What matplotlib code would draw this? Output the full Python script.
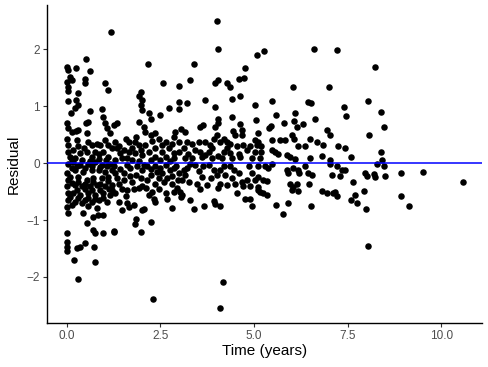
import matplotlib
matplotlib.use("Agg")
import matplotlib.pyplot as plt

# residuals vs follow-up time
time_early = [
    1.17, 0.51, 0.00, 0.04, 0.24, 0.62, 0.09, 0.13, 0.00, 0.03, 0.04, 0.49, 0.49, 1.02, 1.11, 0.31,
    0.04, 0.24, 0.31, 0.11, 0.22, 0.62, 0.94, 0.98, 0.58, 0.51, 0.00, 0.04, 0.13, 0.24, 0.31, 1.02,
    1.07, 1.16, 1.25, 0.53, 0.00, 0.03, 0.04, 0.09, 0.27, 0.31, 0.36, 0.58, 0.67, 0.80, 0.89, 1.02,
    1.11, 1.20, 0.98, 1.11, 0.53, 0.67, 0.76, 0.22,
    0.00, 0.04, 0.00, 0.04, 0.03, 0.00, 0.04, 0.40, 0.44, 0.53, 0.71, 0.84, 0.98, 0.00, 0.71, 0.76,
    0.98, 1.25, 0.00, 0.00, 0.00, 0.27, 0.36, 0.49, 0.74, 0.20, 0.76, 0.31,
    0.04, 0.18, 0.36, 0.58, 0.76, 0.94, 1.16, 0.22, 0.44, 0.67, 0.85, 1.02, 1.20, 0.09, 0.31, 0.53,
    0.71, 0.94, 1.11, 0.22, 0.40, 0.62, 0.80, 1.02, 1.20, 0.18, 0.36, 0.58, 0.76, 0.98, 1.16, 0.22,
    0.49, 0.67, 0.85, 1.07, 0.80,
]
resid_early = [
    2.29, 1.83, 1.68, 1.63, 1.67, 1.62, 1.51, 1.45, 1.42, 1.34, 1.26, 1.48, 1.40, 1.40, 1.28, 1.22,
    1.09, 1.10, 1.02, 0.87, 0.96, 0.91, 0.95, 0.81, 0.72, 0.70, 0.70, 0.61, 0.55, 0.56, 0.58, 0.70,
    0.61, 0.52, 0.67, 0.52, 0.43, 0.32, 0.20, 0.11, 0.40, 0.29, 0.17, 0.37, 0.32, 0.34, 0.32, 0.40,
    0.32, 0.26, 0.20, 0.11, 0.20, 0.11, 0.20, 0.08,
    -0.18, -0.30, -0.41, -0.53, -0.65, -0.77, -0.88, -0.71, -0.88, -1.06, -0.94, -0.91, -0.91, -1.23, -1.17, -1.23,
    -1.23, -1.20, -1.38, -1.47, -1.55, -1.49, -1.47, -1.41, -1.48, -1.70, -1.73, -2.04,
    -0.01, 0.02, -0.04, -0.01, 0.02, -0.04, -0.01, -0.12, -0.15, -0.12, -0.12, -0.15, -0.12, -0.24, -0.24, -0.30,
    -0.27, -0.27, -0.24, -0.39, -0.41, -0.41, -0.39, -0.41, -0.39, -0.53, -0.56, -0.53, -0.56, -0.53, -0.56, -0.68,
    -0.65, -0.68, -0.65, -0.68, -0.79,
]

time_mid = [
    2.17, 2.57, 2.99, 1.97, 1.93, 2.00, 1.97, 2.01, 2.99, 2.74, 2.99, 2.19, 2.24, 2.50, 1.33, 1.93,
    2.06, 2.10, 2.24, 2.37, 2.90, 3.04, 2.86, 2.99, 1.57, 1.66, 1.83, 1.93, 1.30, 1.34, 1.43, 2.10,
    2.19, 2.37, 2.55, 2.73, 1.66, 1.83, 2.01, 1.61, 2.37, 2.64, 2.86, 2.99,
    1.39, 1.61, 1.66, 1.79, 1.48, 2.01, 2.06, 2.33, 2.37, 2.68, 2.80, 1.85, 1.82, 2.26, 1.26, 1.99,
    2.30,
    1.30, 1.52, 1.39, 1.61, 1.21, 1.84, 1.93, 2.01, 2.28, 2.37, 2.55, 2.68, 2.82, 2.95, 3.04, 2.15,
    2.37, 2.64, 2.86, 3.00, 1.61, 2.01, 1.75, 2.46, 2.15,
    4.01, 4.05, 5.08, 3.39, 4.77, 3.28, 3.97, 4.03, 4.28, 4.37, 4.59, 4.74, 4.62, 4.41, 3.70, 3.22,
    3.97, 5.03, 4.41, 4.05, 4.03, 3.97, 3.56, 3.65, 4.62, 4.68, 5.06, 3.16, 4.01, 3.92, 4.45, 4.50,
    4.68, 4.19, 4.28, 5.03, 5.08, 3.21, 3.34, 3.52, 3.70, 3.83, 3.88, 3.79, 4.10, 4.37, 4.55, 4.72,
    3.12, 3.43, 3.56, 4.19, 4.37, 4.81, 5.03, 3.16, 3.34, 3.61, 3.88, 4.14, 4.41, 4.63, 4.95,
    3.03, 3.07, 3.30, 3.39, 3.67, 3.92, 3.97, 4.08, 4.56, 4.77, 4.90, 4.95, 4.17, 4.08,
    3.12, 3.16, 3.07, 3.43, 3.61, 3.48, 3.75, 3.92, 4.01, 4.10, 4.23, 4.10, 4.37, 4.50, 4.68, 4.81,
    4.95, 5.03, 5.12, 4.72, 4.28, 3.30, 3.65, 4.59,
]
resid_mid = [
    1.74, 1.41, 1.35, 1.24, 1.18, 1.10, 1.02, 0.93, 1.07, 0.97, 0.95, 0.87, 0.78, 0.85, 0.70, 0.72,
    0.64, 0.55, 0.49, 0.52, 0.55, 0.60, 0.46, 0.37, 0.43, 0.37, 0.37, 0.32, 0.37, 0.26, 0.17, 0.32,
    0.20, 0.26, 0.32, 0.26, 0.20, 0.17, 0.14, 0.08, 0.11, 0.11, 0.08, 0.20,
    -0.68, -0.71, -0.77, -0.74, -0.82, -0.82, -0.81, -0.64, -0.69, -0.64, -0.79, -0.99, -1.07, -1.03, -1.21, -1.21,
    -2.38,
    -0.18, -0.18, -0.36, -0.47, -0.47, -0.21, -0.44, -0.41, -0.50, -0.36, -0.18, -0.27, -0.36, -0.44, -0.59, -0.06,
    -0.06, -0.04, -0.09, -0.18, -0.04, -0.12, -0.33, -0.27, -0.30,
    2.49, 2.00, 1.90, 1.73, 1.67, 1.45, 1.40, 1.45, 1.40, 1.34, 1.47, 1.49, 1.18, 1.13, 1.10, 1.06,
    0.98, 1.02, 0.80, 0.78, 0.71, 0.64, 0.64, 0.67, 0.68, 0.58, 0.75, 0.54, 0.49, 0.43, 0.56, 0.49,
    0.50, 0.43, 0.37, 0.40, 0.32, 0.37, 0.34, 0.37, 0.37, 0.32, 0.26, 0.20, 0.37, 0.34, 0.29, 0.32,
    0.26, 0.23, 0.20, 0.20, 0.17, 0.23, 0.20, 0.09, 0.08, 0.10, 0.08, 0.09, 0.08, 0.10, 0.09,
    -0.50, -0.56, -0.65, -0.81, -0.75, -0.66, -0.72, -0.75, -0.53, -0.64, -0.64, -0.75, -2.08, -2.55,
    -0.12, -0.21, -0.30, -0.04, -0.24, -0.36, -0.39, -0.12, -0.21, -0.12, -0.21, -0.36, -0.06, -0.36, -0.33, -0.30,
    -0.18, -0.30, -0.47, -0.41, -0.39, -0.01, -0.06, -0.18,
]

# crowded band around zero, x < 5
time_band = [
    0.13, 0.27, 0.49, 0.67, 0.89, 1.07, 0.13, 0.31, 0.49, 0.71, 0.89, 1.09, 0.27, 0.49, 0.67, 0.89,
    1.13, 0.09, 0.31, 0.58, 0.76, 0.98, 0.13, 0.58,
    0.13, 0.40, 0.62, 0.85, 1.04, 0.45, 0.85, 0.18,
    1.26, 1.43, 1.70, 1.88, 2.06, 2.26, 2.50, 2.75, 2.92, 1.34, 1.52, 1.70, 1.97, 2.24, 2.41, 2.61,
    2.80, 2.97, 1.48, 1.79, 2.12, 2.46, 2.64, 2.86, 1.30, 1.57, 2.19,
    1.30, 1.48, 1.75, 1.92, 2.24, 2.50, 2.77, 1.39, 1.52, 1.75, 1.97, 2.28, 2.46, 2.64, 2.82, 2.55,
    2.86, 1.84,
    3.21, 3.52, 3.79, 4.19, 4.46, 4.86, 3.26, 3.84, 4.41, 4.05, 3.57, 4.90,
    3.25, 3.70, 4.05, 4.28, 4.59, 4.90,
]
resid_band = [
    -0.08, -0.06, -0.08, -0.05, -0.07, -0.06, -0.35, -0.33, -0.37, -0.34, -0.36, -0.32, -0.47, -0.46, -0.48, -0.47,
    -0.46, -0.60, -0.61, -0.62, -0.63, -0.61, -0.73, -0.76,
    0.05, 0.06, 0.04, 0.07, 0.05, 0.26, 0.15, 0.22,
    -0.06, -0.10, -0.09, -0.05, -0.03, -0.11, -0.08, -0.13, -0.05, -0.27, -0.30, -0.22, -0.27, -0.21, -0.16, -0.33,
    -0.22, -0.30, -0.45, -0.46, -0.44, -0.45, -0.52, -0.50, -0.52, -0.58, -0.57,
    0.05, 0.08, 0.06, 0.04, 0.06, 0.05, 0.04, 0.29, 0.23, 0.27, 0.22, 0.38, 0.42, 0.36, 0.33, 0.19,
    0.18, 0.46,
    -0.08, -0.14, -0.03, -0.05, -0.12, -0.06, -0.33, -0.27, -0.26, -0.44, -0.45, -0.40,
    0.15, 0.14, 0.13, 0.27, 0.16, 0.30,
]

time_late = [
    5.27, 6.60, 7.21, 6.03, 7.01, 5.47, 6.45, 6.52, 7.41, 5.58, 6.10, 6.08, 6.63, 7.45, 5.81, 6.32,
    6.14, 5.45, 5.41, 6.96, 7.03, 5.12, 6.01, 6.08, 5.47, 5.70, 5.83, 6.50, 6.67, 6.85, 5.12, 5.20,
    6.18, 6.36, 7.25, 7.43, 5.47, 5.56, 5.65, 5.87, 5.96, 6.10, 6.50, 6.81, 7.03, 5.20, 5.16,
    8.22, 8.04, 8.40, 8.47, 8.06, 7.59, 8.38, 8.42, 8.29,
    5.12, 5.29, 5.38, 5.47, 5.87, 5.92, 6.05, 6.17, 6.20, 6.36, 6.43, 6.54, 7.03, 7.21, 7.34, 7.08,
    7.30, 5.12, 5.25, 5.34, 5.96, 6.14, 6.01, 6.18, 6.05, 6.48, 5.12, 5.16, 5.25, 5.36, 6.81, 6.94,
    7.12, 7.21, 7.16, 5.58, 5.92, 5.78, 6.52,
    8.47, 7.44, 7.96, 8.02, 8.20, 8.24, 8.51, 8.92, 9.51, 10.58, 7.64, 7.93, 7.69, 7.60, 7.74, 8.00,
    8.93, 9.13, 8.05,
]
resid_late = [
    1.96, 2.00, 1.98, 1.33, 1.33, 1.09, 1.07, 1.06, 0.99, 0.85, 0.87, 0.74, 0.78, 0.83, 0.71, 0.68,
    0.63, 0.65, 0.61, 0.58, 0.49, 0.52, 0.49, 0.43, 0.41, 0.41, 0.40, 0.43, 0.36, 0.32, 0.37, 0.29,
    0.29, 0.30, 0.30, 0.26, 0.23, 0.20, 0.16, 0.14, 0.11, 0.07, 0.09, 0.13, 0.05, 0.20, 0.08,
    1.68, 1.09, 0.90, 0.63, 0.49, 0.10, 0.20, 0.05, -0.02,
    -0.06, -0.06, -0.09, -0.01, -0.12, -0.18, -0.09, -0.12, -0.18, -0.06, -0.17, -0.21, -0.01, -0.06, -0.12, -0.21,
    -0.23, -0.24, -0.29, -0.31, -0.36, -0.36, -0.47, -0.49, -0.42, -0.37, -0.42, -0.50, -0.53, -0.56, -0.49, -0.52,
    -0.53, -0.58, -0.50, -0.74, -0.71, -0.90, -0.75,
    -0.05, -0.12, -0.17, -0.23, -0.19, -0.25, -0.23, -0.18, -0.15, -0.33, -0.34, -0.49, -0.57, -0.65, -0.71, -0.80,
    -0.58, -0.75, -1.46,
]

x_ticks = [0.0, 2.5, 5.0, 7.5, 10.0]
y_ticks = [-2, -1, 0, 1, 2]

plt.rcParams["font.family"] = ["Liberation Sans", "DejaVu Sans"]

fig = plt.figure(figsize=(4.89, 3.67), dpi=100)
ax = fig.add_axes([0.0955, 0.121, 0.891, 0.865])

groups = [
    (time_early, resid_early),
    (time_mid, resid_mid),
    (time_band, resid_band),
    (time_late, resid_late),
]
for t, r in groups:
    ax.scatter(t, r, s=22, color="black", linewidths=0, zorder=2)

ax.axhline(0, color="#0000FF", linewidth=1.1, zorder=3)

ax.set_xlim(-0.535, 11.1)
ax.set_ylim(-2.8, 2.77)
ax.set_xticks(x_ticks)
ax.set_xticklabels([f"{v:.1f}" for v in x_ticks])
ax.set_yticks(y_ticks)
ax.set_yticklabels([str(v).replace("-", "\u2212") for v in y_ticks])

for side in ["top", "right"]:
    ax.spines[side].set_visible(False)
for side in ["left", "bottom"]:
    ax.spines[side].set_linewidth(1.0)
ax.tick_params(axis="both", length=3, width=0.8, color="#333333",
               labelcolor="#4D4D4D", labelsize=8.5, pad=2)

ax.set_xlabel("Time (years)", fontsize=11, labelpad=2)
ax.set_ylabel("Residual", fontsize=11, labelpad=4)

fig.savefig("out.png", dpi=100)
